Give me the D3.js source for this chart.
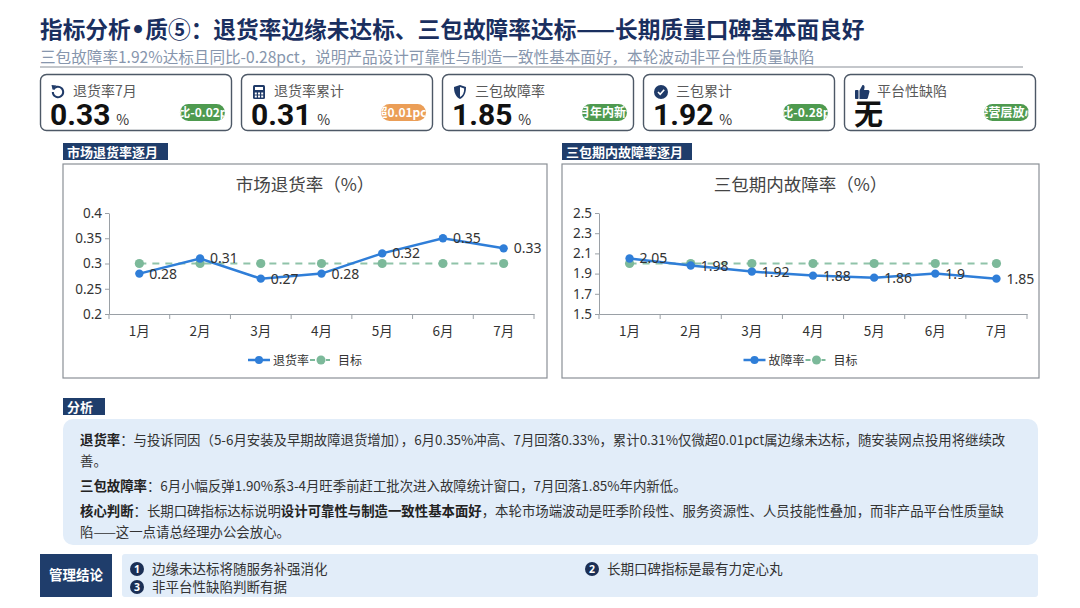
<!DOCTYPE html>
<html>
<head>
<meta charset="utf-8">
<script src="https://cdn.jsdelivr.net/npm/d3@7"></script>
<style>
  body { margin: 0; background: #fff; }
  svg { display: block; font-family: "Noto Sans CJK SC", "Noto Sans", sans-serif; }
</style>
</head>
<body>
<script>
// 数据
const months = ["1月", "2月", "3月", "4月", "5月", "6月", "7月"];
const returnRate = [0.28, 0.31, 0.27, 0.28, 0.32, 0.35, 0.33];
const returnTarget = [0.3, 0.3, 0.3, 0.3, 0.3, 0.3, 0.3];
const returnTicks = [0.2, 0.25, 0.3, 0.35, 0.4];
const faultRate = [2.05, 1.98, 1.92, 1.88, 1.86, 1.9, 1.85];
const faultTarget = [2.0, 2.0, 2.0, 2.0, 2.0, 2.0, 2.0];
const faultTicks = [1.5, 1.7, 1.9, 2.1, 2.3, 2.5];

const kpiLabels = ["退货率7月", "退货率累计", "三包故障率", "三包累计", "平台性缺陷"];
const kpiValues = ["0.33", "0.31", "1.85", "1.92", "无"];
const kpiUnits = ["%", "%", "%", "%", ""];
const kpiBadges = ["环比-0.02pct", "超0.01pct", "7月年内新低", "同比-0.28pct", "经营层放心"];
const kpiBadgeTone = ["good", "warn", "good", "good", "good"];

const conclusions = ["边缘未达标将随服务补强消化", "长期口碑指标是最有力定心丸", "非平台性缺陷判断有据"];

const navy = "#1f3a68";
const blue = "#2f7ed8";
const green = "#7cb99a";

const svg = d3.select("body").append("svg")
    .attr("width", 1080)
    .attr("height", 608);

// 标题
const title = svg.append("text")
    .attr("x", 40).attr("y", 37.5)
    .attr("fill", "#1a2f5f")
    .style("font-size", "22.7px").style("font-weight", "bold");
title.append("tspan").text("指标分析");
title.append("tspan").style("font-family", "'DejaVu Sans', sans-serif").text("•");
title.append("tspan").text("质⑤：退货率边缘未达标、三包故障率达标——长期质量口碑基本面良好");

svg.append("text")
    .attr("x", 40).attr("y", 62.5)
    .attr("fill", "#8796ad")
    .style("font-size", "15.6px")
    .text("三包故障率1.92%达标且同比-0.28pct，说明产品设计可靠性与制造一致性基本面好，本轮波动非平台性质量缺陷");

svg.append("line")
    .attr("x1", 40).attr("x2", 1023).attr("y1", 67).attr("y2", 67)
    .attr("stroke", "#b0b4ba").attr("stroke-width", 1.5);

// KPI 卡片
const cardX = d3.scaleLinear().domain([0, 1]).range([40, 241]);
const defs = svg.append("defs");

function drawIcon(g, i) {
    const ig = g.append("g").attr("transform", "translate(18,18)").attr("fill", navy);
    if (i === 0) {
        ig.append("path")
            .attr("d", d3.arc()({ innerRadius: 4.2, outerRadius: 6.2, startAngle: -Math.PI * 0.35, endAngle: Math.PI * 1.5 }));
        ig.append("path").attr("d", "M-6.5,-7 L-1.5,-6.5 L-5.5,-2.5 Z");
    } else if (i === 1) {
        ig.append("rect").attr("x", -6).attr("y", -7).attr("width", 12).attr("height", 14).attr("rx", 1.5);
        ig.append("rect").attr("x", -4).attr("y", -5).attr("width", 8).attr("height", 3).attr("fill", "#fff");
        [-3.2, 0, 3.2].forEach(dx => [0.5, 3.5].forEach(dy => {
            ig.append("rect").attr("x", dx - 1).attr("y", dy).attr("width", 2).attr("height", 2).attr("fill", "#fff");
        }));
    } else if (i === 2) {
        ig.append("path").attr("d", "M0,-7 L6,-5 C6,1 4,5 0,7 C-4,5 -6,1 -6,-5 Z");
        ig.append("path").attr("d", "M0,-5 L4.2,-3.6 C4.2,0.8 2.8,3.6 0,5 Z").attr("fill", "#fff");
    } else if (i === 3) {
        ig.append("circle").attr("r", 7);
        ig.append("path").attr("d", "M-3,0 L-0.8,2.3 L3.2,-2.2")
            .attr("fill", "none").attr("stroke", "#fff").attr("stroke-width", 1.6);
    } else {
        ig.append("rect").attr("x", -7).attr("y", -2).attr("width", 3.5).attr("height", 9).attr("rx", 0.8);
        ig.append("path").attr("d", "M-2.5,-1.5 L0.5,-7 C2,-7.5 3,-6 2.5,-4 L2,-2 L6,-2 C7.5,-2 7.8,-0.5 7.3,0.5 L5.8,6 C5.5,6.8 5,7 4,7 L-2.5,7 Z");
    }
}

kpiLabels.forEach((label, i) => {
    const g = svg.append("g").attr("transform", `translate(${cardX(i)},74)`);
    g.append("rect")
        .attr("x", 0.5).attr("y", 0.5).attr("width", 191).attr("height", 56).attr("rx", 6)
        .attr("fill", "#fff").attr("stroke", "#4d5866").attr("stroke-width", 1.4);
    drawIcon(g, i);
    g.append("text")
        .attr("x", 33).attr("y", 22)
        .attr("fill", "#5a5a5a").style("font-size", "14px")
        .text(label);
    const v = g.append("text")
        .attr("x", 10).attr("y", 51)
        .attr("fill", "#111");
    v.append("tspan")
        .style("font-size", i === 4 ? "29px" : "30px").style("font-weight", "bold")
        .style("font-family", i === 4 ? "'Noto Sans CJK SC', sans-serif" : "Roboto, sans-serif")
        .text(kpiValues[i]);
    if (kpiUnits[i]) {
        v.append("tspan").attr("dx", 6).style("font-size", "14px").attr("fill", "#333").text(kpiUnits[i]);
    }
    // 徽章
    const bx = 140, by = 30, bw = 45, bh = 17;
    defs.append("clipPath").attr("id", "clip" + i)
        .append("rect").attr("x", bx).attr("y", by).attr("width", bw).attr("height", bh).attr("rx", 8.5);
    g.append("rect")
        .attr("x", bx).attr("y", by).attr("width", bw).attr("height", bh).attr("rx", 8.5)
        .attr("fill", kpiBadgeTone[i] === "warn" ? "#eb9e57" : "#4e9a4f");
    g.append("text")
        .attr("clip-path", `url(#clip${i})`)
        .attr("x", bx + bw / 2).attr("y", by + bh / 2 + 4.3)
        .attr("text-anchor", "middle")
        .attr("fill", "#fff").style("font-size", "12px").style("font-weight", "bold")
        .text(kpiBadges[i]);
});

// 小节标签
function sectionLabel(x, y, w, txt) {
    svg.append("rect").attr("x", x).attr("y", y).attr("width", w).attr("height", 17).attr("fill", "#1f3d6b");
    svg.append("text")
        .attr("x", x + 4).attr("y", y + 13.5)
        .attr("fill", "#fff").style("font-size", "13px").style("font-weight", "bold")
        .text(txt);
}

// 折线图
function drawChart(cfg) {
    svg.append("rect")
        .attr("x", cfg.box[0]).attr("y", 164).attr("width", cfg.box[1] - cfg.box[0]).attr("height", 214)
        .attr("fill", "#fff").attr("stroke", "#8a9096").attr("stroke-width", 1.2);

    const cx = (cfg.box[0] + cfg.box[1]) / 2;
    svg.append("text")
        .attr("x", cx).attr("y", 191)
        .attr("text-anchor", "middle")
        .attr("fill", "#444").style("font-size", "17.5px")
        .text(cfg.title);

    const x = d3.scaleBand().domain(months).range(cfg.xr);
    const y = d3.scaleLinear().domain(cfg.domain).range([314, 213]);

    const yAxis = svg.append("g")
        .attr("transform", `translate(${cfg.xr[0]},0)`)
        .call(d3.axisLeft(y).tickValues(cfg.ticks).tickSize(4).tickSizeOuter(0).tickFormat(d => String(d)));
    yAxis.select(".domain").attr("stroke", "#9aa0a6");
    yAxis.selectAll(".tick line").attr("stroke", "#9aa0a6");
    yAxis.selectAll(".tick text").attr("fill", "#333").style("font-size", "13.5px")
        .style("font-family", "'Noto Sans', sans-serif");

    const xAxis = svg.append("g")
        .attr("transform", "translate(0,314)")
        .call(d3.axisBottom(x).tickSize(0).tickPadding(12));
    xAxis.select(".domain").attr("stroke", "#9aa0a6");
    xAxis.selectAll(".tick text").attr("fill", "#333").style("font-size", "13.5px")
        .style("font-family", "'Noto Sans CJK SC', sans-serif");
    svg.append("g").selectAll("line")
        .data(d3.range(months.length + 1))
        .join("line")
        .attr("x1", i => cfg.xr[0] + i * x.step()).attr("x2", i => cfg.xr[0] + i * x.step())
        .attr("y1", 314).attr("y2", 319)
        .attr("stroke", "#9aa0a6");

    const px = (d, i) => x(months[i]) + x.bandwidth() / 2;
    const line = d3.line().x((d, i) => px(d, i)).y(d => y(d));

    // 目标线
    svg.append("path")
        .attr("d", line(cfg.target))
        .attr("fill", "none").attr("stroke", green).attr("stroke-width", 2)
        .attr("stroke-dasharray", "7,6").attr("opacity", 0.85);
    svg.append("g").selectAll("circle")
        .data(cfg.target).join("circle")
        .attr("cx", px).attr("cy", d => y(d)).attr("r", 4.6)
        .attr("fill", green);

    // 实际线
    svg.append("path")
        .attr("d", line(cfg.values))
        .attr("fill", "none").attr("stroke", blue).attr("stroke-width", 2.5);
    svg.append("g").selectAll("circle")
        .data(cfg.values).join("circle")
        .attr("cx", px).attr("cy", d => y(d)).attr("r", 4.2)
        .attr("fill", blue);
    svg.append("g").selectAll("text")
        .data(cfg.values).join("text")
        .attr("x", (d, i) => px(d, i) + 10).attr("y", d => y(d) + 5)
        .attr("fill", "#333").style("font-size", "14px")
        .style("font-family", "'Noto Sans', sans-serif")
        .text(d => String(d));

    // 图例
    const lg = svg.append("g").attr("transform", `translate(${cx - 57},360)`);
    lg.append("line").attr("x1", 0).attr("x2", 22).attr("stroke", blue).attr("stroke-width", 2.5);
    lg.append("circle").attr("cx", 11).attr("r", 4).attr("fill", blue);
    lg.append("text").attr("x", 25).attr("y", 4.5).attr("fill", "#333").style("font-size", "12px").text(cfg.name);
    lg.append("line").attr("x1", 62).attr("x2", 82).attr("stroke", green).attr("stroke-width", 2).attr("stroke-dasharray", "5,3");
    lg.append("circle").attr("cx", 73).attr("r", 4.5).attr("fill", green);
    lg.append("text").attr("x", 90).attr("y", 4.5).attr("fill", "#333").style("font-size", "12px").text("目标");
}

sectionLabel(63, 143, 105, "市场退货率逐月");
sectionLabel(562, 143, 130, "三包期内故障率逐月");

drawChart({
    box: [63, 547], xr: [109, 534], domain: [0.2, 0.4], ticks: returnTicks,
    values: returnRate, target: returnTarget, title: "市场退货率（%）", name: "退货率"
});
drawChart({
    box: [562, 1039], xr: [599, 1027], domain: [1.5, 2.5], ticks: faultTicks,
    values: faultRate, target: faultTarget, title: "三包期内故障率（%）", name: "故障率"
});

// 分析
sectionLabel(63, 398, 42, "分析");
svg.append("rect")
    .attr("x", 63).attr("y", 419).attr("width", 975).attr("height", 126).attr("rx", 10)
    .attr("fill", "#e2edf9");

const analysis = [
    [{ b: true, t: "退货率" }, { t: "：与投诉同因（5-6月安装及早期故障退货增加），6月0.35%冲高、7月回落0.33%，累计0.31%仅微超0.01pct属边缘未达标，随安装网点投用将继续改" }],
    [{ t: "善。" }],
    [{ b: true, t: "三包故障率" }, { t: "：6月小幅反弹1.90%系3-4月旺季前赶工批次进入故障统计窗口，7月回落1.85%年内新低。" }],
    [{ b: true, t: "核心判断" }, { t: "：长期口碑指标达标说明" }, { b: true, t: "设计可靠性与制造一致性基本面好" }, { t: "，本轮市场端波动是旺季阶段性、服务资源性、人员技能性叠加，而非产品平台性质量缺" }],
    [{ t: "陷——这一点请总经理办公会放心。" }]
];
const lineY = [445, 466, 491, 516, 537];
analysis.forEach((parts, i) => {
    const t = svg.append("text")
        .attr("x", 80).attr("y", lineY[i])
        .attr("fill", "#333").style("font-size", "13.4px");
    parts.forEach(p => {
        t.append("tspan")
            .style("font-weight", p.b ? "bold" : "normal")
            .attr("fill", p.b ? "#222" : "#333")
            .text(p.t);
    });
});

// 管理结论
svg.append("rect").attr("x", 40).attr("y", 554).attr("width", 72).attr("height", 43).attr("fill", "#1f3d6b");
svg.append("text")
    .attr("x", 76).attr("y", 580).attr("text-anchor", "middle")
    .attr("fill", "#fff").style("font-size", "13.5px").style("font-weight", "bold")
    .text("管理结论");
svg.append("rect").attr("x", 122).attr("y", 554).attr("width", 916).attr("height", 43).attr("rx", 3)
    .attr("fill", "#e2edf9");

const conclPos = [[137, 569], [592, 569], [137, 587]];
conclusions.forEach((c, i) => {
    const g = svg.append("g").attr("transform", `translate(${conclPos[i][0]},${conclPos[i][1]})`);
    g.append("circle").attr("r", 7).attr("fill", "#1b2f55");
    g.append("text").attr("y", 4).attr("text-anchor", "middle")
        .attr("fill", "#fff").style("font-size", "10.5px").style("font-weight", "bold")
        .style("font-family", "'Noto Sans', sans-serif")
        .text(i + 1);
    g.append("text").attr("x", 15).attr("y", 5)
        .attr("fill", "#333").style("font-size", "13.5px")
        .text(c);
});
</script>
</body>
</html>
